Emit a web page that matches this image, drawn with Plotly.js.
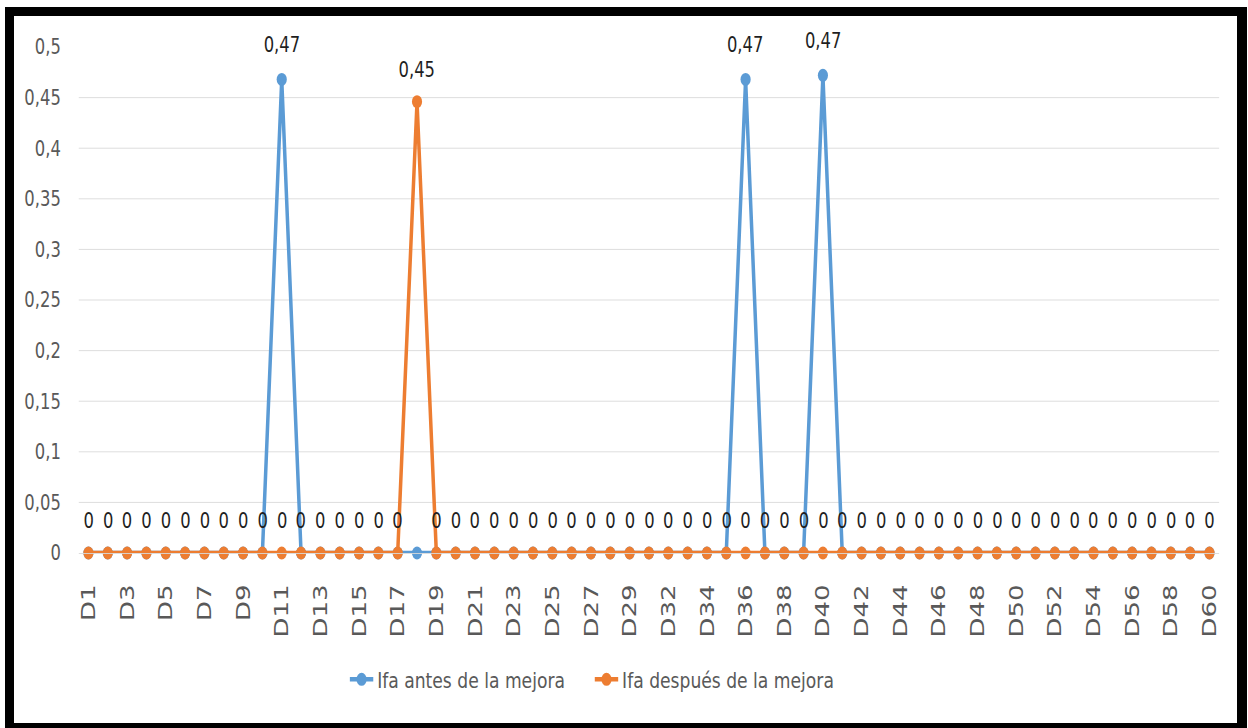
<!DOCTYPE html>
<html>
<head>
<meta charset="utf-8">
<script src="https://cdn.plot.ly/plotly-3.0.1.min.js"></script>
<style>
  html, body { margin: 0; padding: 0; background: #ffffff; overflow: hidden; width: 1248px; height: 728px; }
  #chart { position: absolute; left: 0; top: 0; width: 1600px; height: 728px; }
  #frame { position: absolute; left: 5px; top: 7px; width: 1242px; height: 740px;
           box-sizing: border-box; border-style: solid; border-color: #000;
           border-width: 9px 10px 24px 9px; pointer-events: none; }
</style>
</head>
<body>
<div id="chart"></div>
<div id="frame"></div>
<script>
// Categories D1..D60 (one day between D29 and D32 absent in the source axis)
const categories = ["D1","D2","D3","D4","D5","D6","D7","D8","D9","D10",
  "D11","D12","D13","D14","D15","D16","D17","D18","D19","D20",
  "D21","D22","D23","D24","D25","D26","D27","D28","D29","D30",
  "D32","D33","D34","D35","D36","D37","D38","D39","D40","D41",
  "D42","D43","D44","D45","D46","D47","D48","D49","D50","D51",
  "D52","D53","D54","D55","D56","D57","D58","D59","D60"];

const ifaAntes = [0,0,0,0,0,0,0,0,0,0,
  0.468,0,0,0,0,0,0,0,0,0,
  0,0,0,0,0,0,0,0,0,0,
  0,0,0,0,0.468,0,0,0,0.472,0,
  0,0,0,0,0,0,0,0,0,0,
  0,0,0,0,0,0,0,0,0];

const ifaDespues = [0,0,0,0,0,0,0,0,0,0,
  0,0,0,0,0,0,0,0.446,0,0,
  0,0,0,0,0,0,0,0,0,0,
  0,0,0,0,0,0,0,0,0,0,
  0,0,0,0,0,0,0,0,0,0,
  0,0,0,0,0,0,0,0,0];

const seriesNames = ["Ifa antes de la mejora", "Ifa después de la mejora"];
const yTicks = [0,0.05,0.1,0.15,0.2,0.25,0.3,0.35,0.4,0.45,0.5];

function fmt(v) {
  if (v === 0) return "0";
  return (Math.round(v * 100) / 100).toString().replace(".", ",");
}
const xTickVals = categories.filter((c, i) => i % 2 === 0);

const FONT = "DejaVu Sans, sans-serif";
const BLUE = "#5B9BD5", ORANGE = "#ED7D31";
const SQUEEZE = 0.78; // horizontal squeeze of the original picture

const traces = [
  {
    x: categories, y: ifaAntes, name: seriesNames[0], type: "scatter",
    mode: "lines+markers",
    line: { color: BLUE, width: 4.5 }, marker: { color: BLUE, size: 13 },
    cliponaxis: false
  },
  {
    x: categories, y: ifaDespues, name: seriesNames[1], type: "scatter",
    mode: "lines+markers",
    line: { color: ORANGE, width: 4.5 }, marker: { color: ORANGE, size: 13 },
    cliponaxis: false
  }
];

// data labels: every point of the "después" series, only non-zero points of "antes"
const labelFont = { family: FONT, size: 21, color: "#1f1f1f" };
const annotations = [];
categories.forEach((c, i) => {
  if (ifaAntes[i] !== 0) {
    annotations.push({ x: c, y: ifaAntes[i], text: fmt(ifaAntes[i]), showarrow: false,
      xref: "x", yref: "y", yanchor: "middle", yshift: 34, font: labelFont });
  }
  annotations.push({ x: c, y: ifaDespues[i], text: fmt(ifaDespues[i]), showarrow: false,
    xref: "x", yref: "y", yanchor: "middle", yshift: 32, font: labelFont });
});

const layout = {
  width: 1600, height: 728,
  margin: { l: 101, r: 37, t: 47, b: 175 },
  paper_bgcolor: "#ffffff", plot_bgcolor: "#ffffff",
  showlegend: true,
  legend: {
    orientation: "h", x: 0.2343, xanchor: "left", y: -0.25, yanchor: "middle",
    font: { family: FONT, size: 22, color: "#595959" },
    entrywidth: 269, entrywidthmode: "pixels", traceorder: "normal"
  },
  annotations: annotations,
  xaxis: {
    type: "category", range: [-0.5, categories.length - 0.5],
    tickmode: "array", tickvals: xTickVals, ticktext: xTickVals,
    tickangle: -90, ticklabelstandoff: 20,
    tickfont: { family: FONT, size: 26, color: "#595959" },
    showgrid: false, showline: true, linecolor: "#D9D9D9", linewidth: 1,
    zeroline: false, ticks: "", fixedrange: true
  },
  yaxis: {
    range: [0, 0.5], tickmode: "array", tickvals: yTicks,
    ticktext: yTicks.map(fmt),
    tickfont: { family: FONT, size: 21, color: "#595959" },
    ticklabelstandoff: 22,
    showgrid: true, gridcolor: "#D9D9D9", gridwidth: 1,
    zeroline: false, showline: false, ticks: "", fixedrange: true
  }
};

Plotly.newPlot("chart", traces, layout, { displayModeBar: false, staticPlot: true })
  .then(() => {
    const el = document.getElementById("chart");
    el.style.transformOrigin = "0 0";
    el.style.transform = "scaleX(" + SQUEEZE + ")";
  });
</script>
</body>
</html>
